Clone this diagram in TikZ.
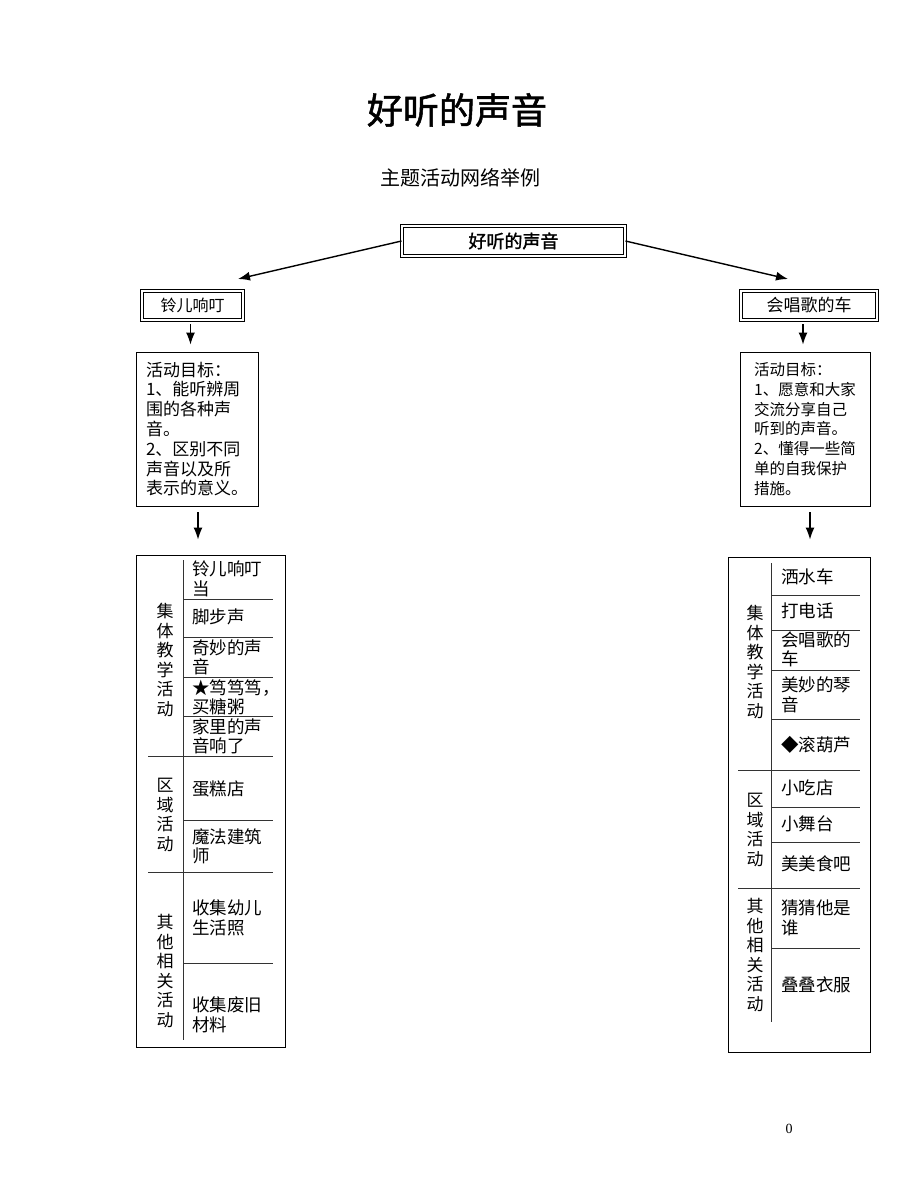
\documentclass[tikz,border=0pt]{standalone}
\usepackage{fontspec}
\setmainfont{Noto Sans CJK SC}
\newfontfamily\titlefont[FakeBold=1.5]{Noto Sans CJK SC}
\newfontfamily\pagefont{Liberation Serif}
\usepackage{tikz}
\usetikzlibrary{positioning,calc}
\usetikzlibrary{arrows.meta}
\tikzset{
  dbox/.style={draw=black,double,line width=0.9pt,double distance=1.8pt,inner sep=0pt},
  goal/.style={draw=black,line width=0.8pt,align=left,inner sep=0pt},
  tab/.style={draw=black,line width=0.8pt,inner sep=0pt},
  rule/.style={draw=black!80,line width=0.8pt},
  arr/.style={draw=black,line width=1.4pt,-{Latex[length=12pt,width=9pt]}},
}
\tikzset{item/.style={anchor=west,align=left,inner sep=0pt,font=\fontsize{17.5}{19.5}\selectfont}, cat/.style={align=center,inner sep=0pt,font=\fontsize{17}{19.5}\selectfont}}

\begin{document}
\begin{tikzpicture}[x=1pt,y=-1pt]
\useasboundingbox[fill=white] (0,0) rectangle (920,1191);
\node[font=\titlefont\fontsize{36}{36}\selectfont] (title) at (457,110) {好听的声音};
\node[font=\fontsize{20}{20}\selectfont] (sub) at (460,178) {主题活动网络举例};
\node[dbox,minimum width=223pt,minimum height=30pt,font=\titlefont\fontsize{18}{18}\selectfont] (top) at (513.5,241) {好听的声音};
\node[dbox,minimum width=101pt,minimum height=29pt,font=\fontsize{16}{16}\selectfont] (ling) at (192.5,305.5) {铃儿响叮};
\node[dbox,minimum width=136pt,minimum height=29pt,font=\fontsize{17}{17}\selectfont] (che) at (809,305.5) {会唱歌的车};
\coordinate (tipL) at (238,279);
\coordinate (tipR) at (788,279);
\draw[arr] (top.west) -- (tipL);
\draw[arr] (top.east) -- (tipR);
\node[goal,minimum width=122pt,minimum height=154pt,font=\fontsize{17}{19.8}\selectfont] (goalL) at (197,429) {活动目标：\\1、能听辨周\\围的各种声\\音。\\2、区别不同\\声音以及所\\表示的意义。};
\node[goal,minimum width=130pt,minimum height=154pt,font=\fontsize{15.5}{19.8}\selectfont] (goalR) at (805,429) {活动目标：\\1、愿意和大家\\交流分享自己\\听到的声音。\\2、懂得一些简\\单的自我保护\\措施。};
\draw[arr,shorten <=4pt,shorten >=7pt] ([xshift=-2pt]ling.south) -- ([xshift=-2pt]ling.south |- goalL.north);
\draw[arr,shorten <=4pt,shorten >=7pt] ([xshift=-6pt]che.south) -- ([xshift=-6pt]che.south |- goalR.north);
\node[tab,minimum width=149pt,minimum height=492pt] (tabL) at (210.5,801) {};
\node[tab,minimum width=142pt,minimum height=495pt] (tabR) at (799,804.5) {};
\draw[arr,shorten <=6pt,shorten >=15pt] ([xshift=1pt]goalL.south) -- ([xshift=1pt]goalL.south |- tabL.north);
\draw[arr,shorten <=6pt,shorten >=17pt] ([xshift=5pt]goalR.south) -- ([xshift=5pt]goalR.south |- tabR.north);
\draw[rule] (183,560) -- (183,1040);
\draw[rule] (148,756) -- (273,756);
\draw[rule] (148,872) -- (273,872);
\draw[rule] (183,599) -- (273,599);
\draw[rule] (183,637) -- (273,637);
\draw[rule] (183,677) -- (273,677);
\draw[rule] (183,716) -- (273,716);
\draw[rule] (183,820) -- (273,820);
\draw[rule] (183,963) -- (273,963);
\node[cat] (jtL) at (165,660) {集\\体\\教\\学\\活\\动};
\node[cat] (qyL) at (165,815) {区\\域\\活\\动};
\node[cat] (qtL) at (165,971) {其\\他\\相\\关\\活\\动};
\node[item] (iLa) at (192,579) {铃儿响叮\\当};
\node[item] (iLb) at (192,617) {脚步声};
\node[item] (iLc) at (192,657.5) {奇妙的声\\音};
\node[item] (iLd) at (192,697.5) {★笃笃笃，\\买糖粥};
\node[item] (iLe) at (192,736.5) {家里的声\\音响了};
\node[item] (iLf) at (192,789) {蛋糕店};
\node[item] (iLg) at (192,846.5) {魔法建筑\\师};
\node[item] (iLh) at (192,918) {收集幼儿\\生活照};
\node[item] (iLi) at (192,1015) {收集废旧\\材料};
\draw[rule] (771,563) -- (771,1022);
\draw[rule] (738,770) -- (860,770);
\draw[rule] (738,888) -- (860,888);
\draw[rule] (771,595) -- (860,595);
\draw[rule] (771,630) -- (860,630);
\draw[rule] (771,670) -- (860,670);
\draw[rule] (771,719) -- (860,719);
\draw[rule] (771,807) -- (860,807);
\draw[rule] (771,842) -- (860,842);
\draw[rule] (771,948) -- (860,948);
\node[cat] (jtR) at (755,662) {集\\体\\教\\学\\活\\动};
\node[cat] (qyR) at (755,830) {区\\域\\活\\动};
\node[cat] (qtR) at (755,955) {其\\他\\相\\关\\活\\动};
\node[item] (iRa) at (781,577) {洒水车};
\node[item] (iRb) at (781,611) {打电话};
\node[item] (iRc) at (781,649.5) {会唱歌的\\车};
\node[item] (iRd) at (781,695) {美妙的琴\\音};
\node[item] (iRe) at (781,745) {◆滚葫芦};
\node[item] (iRf) at (781,788) {小吃店};
\node[item] (iRg) at (781,824) {小舞台};
\node[item] (iRh) at (781,864) {美美食吧};
\node[item] (iRi) at (781,918) {猜猜他是\\谁};
\node[item] (iRj) at (781,985) {叠叠衣服};
\node[font=\pagefont\fontsize{14}{14}\selectfont] (pnum) at (789,1129) {0};
\end{tikzpicture}
\end{document}
